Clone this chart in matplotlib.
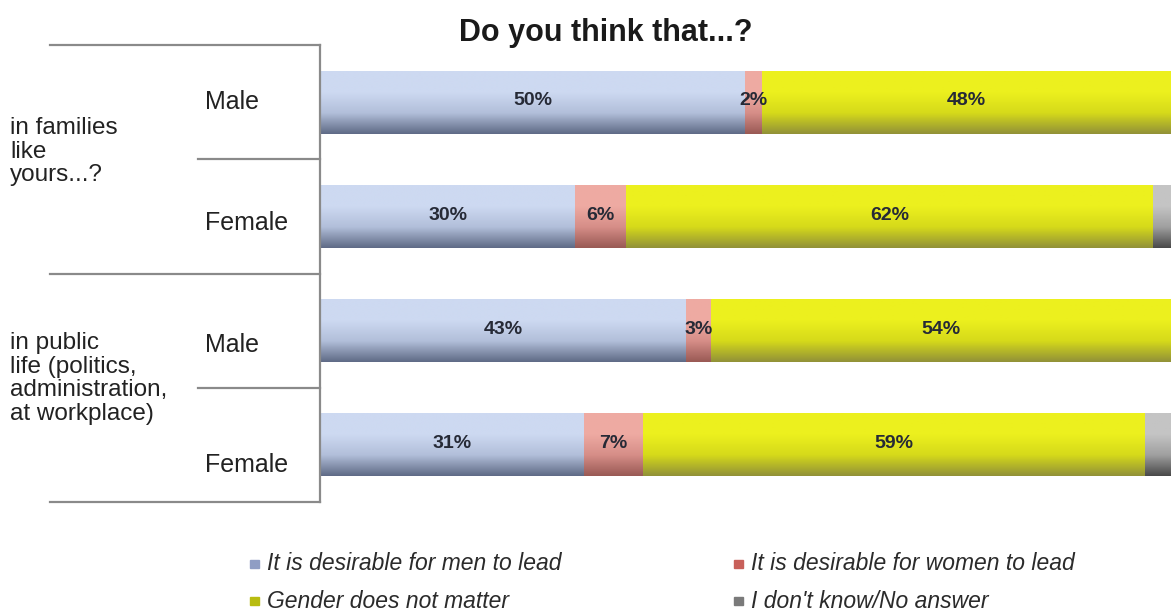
import matplotlib.pyplot as plt
from matplotlib.colors import LinearSegmentedColormap
import matplotlib.transforms as mtransforms
import numpy as np

plt.rcParams['font.family'] = ['Liberation Sans', 'DejaVu Sans']

groups = ["in families\nlike\nyours...?", "in public\nlife (politics,\nadministration,\nat workplace)"]
rows = ["Male", "Female", "Male", "Female"]
series = ["It is desirable for men to lead", "It is desirable for women to lead",
          "Gender does not matter", "I don't know/No answer"]
men_lead = [50, 30, 43, 31]
women_lead = [2, 6, 3, 7]
no_matter = [48, 62, 54, 59]
dont_know = [0, 2, 0, 3]

# (top, mid, bottom) shades for the gradient look
shades = [("#cdd9f1", "#b2bfda", "#606b87"),
          ("#eeaaa2", "#d68e88", "#9a5a55"),
          ("#ecf01e", "#d6da1a", "#929238"),
          ("#c4c4c4", "#a0a0a0", "#4a4a4a")]
legend_cols = ["#8f9dc4", "#c8605a", "#b8bc10", "#7a7a7a"]

fig = plt.figure(figsize=(11.73, 6.15), dpi=100)
ax = fig.add_axes([320 / 1173, 1 - 502 / 615, 853 / 1173, 457 / 615])

y = np.arange(len(rows))
h = 0.55
left = np.zeros(len(rows))
for vals, sh in zip([men_lead, women_lead, no_matter, dont_know], shades):
    bars = ax.barh(y, vals, left=left, height=h, color=sh[1], zorder=1)
    cmap = LinearSegmentedColormap.from_list("g", [sh[0], sh[0], sh[1], sh[2]])
    grad = np.linspace(0, 1, 64).reshape(-1, 1)
    for b in bars:
        if b.get_width() <= 0:
            continue
        x0, yb = b.get_x(), b.get_y()
        ax.imshow(grad, cmap=cmap, aspect='auto', origin='upper', zorder=2,
                  extent=(x0, x0 + b.get_width(), yb + h, yb), interpolation='bilinear')
    left += np.array(vals)

# percentage labels
left = np.zeros(len(rows))
for vals in [men_lead, women_lead, no_matter]:
    for i, v in enumerate(vals):
        ax.text(left[i] + v / 2, y[i] - 0.01, f"{v}%", ha='center', va='center',
                fontsize=14, fontweight='bold', color='#262a36', zorder=3)
    left += np.array(vals)

ax.set_xlim(0, 100.3)
ax.set_ylim(3.5, -0.5)
ax.axis('off')

# left frame lines
tr = mtransforms.blended_transform_factory(ax.transAxes, ax.transData)
line_kw = dict(color='#8a8a8a', lw=1.6, transform=tr, clip_on=False)
ax.plot([0, 0], [-0.5, 3.5], **line_kw)
for yy in [-0.5, 1.5, 3.5]:
    ax.plot([-0.317, 0], [yy, yy], **line_kw)
for yy in [0.5, 2.5]:
    ax.plot([-0.143, 0], [yy, yy], **line_kw)

row_offsets = [0, 0.06, 0.13, 0.18]
for i, r in enumerate(rows):
    ax.text(-0.135, y[i] + row_offsets[i], r, transform=tr, ha='left', va='center',
            fontsize=18, color='#222222')

fig.text(10 / 1173, 1 - 117 / 615, groups[0], ha='left', va='top', fontsize=17.5,
         color='#222222', linespacing=1.1)
fig.text(10 / 1173, 1 - 332 / 615, groups[1], ha='left', va='top', fontsize=17.5,
         color='#222222', linespacing=1.1)

fig.text(606 / 1173, 1 - 33 / 615, "Do you think that...?", ha='center', va='center',
         fontsize=22, fontweight='bold', color='#1a1a1a')

# legend
leg_pos = [(250, 564), (734, 564), (250, 601), (734, 601)]
for (lx, ly), name, c in zip(leg_pos, series, legend_cols):
    fig.patches.append(plt.Rectangle((lx / 1173, 1 - (ly + 4) / 615), 9 / 1173, 8 / 615,
                                     color=c, transform=fig.transFigure))
    fig.text((lx + 17) / 1173, 1 - ly / 615, name, ha='left', va='center', fontsize=16.5,
             style='italic', color='#2b2b2b')

fig.savefig("out.png", dpi=100)
